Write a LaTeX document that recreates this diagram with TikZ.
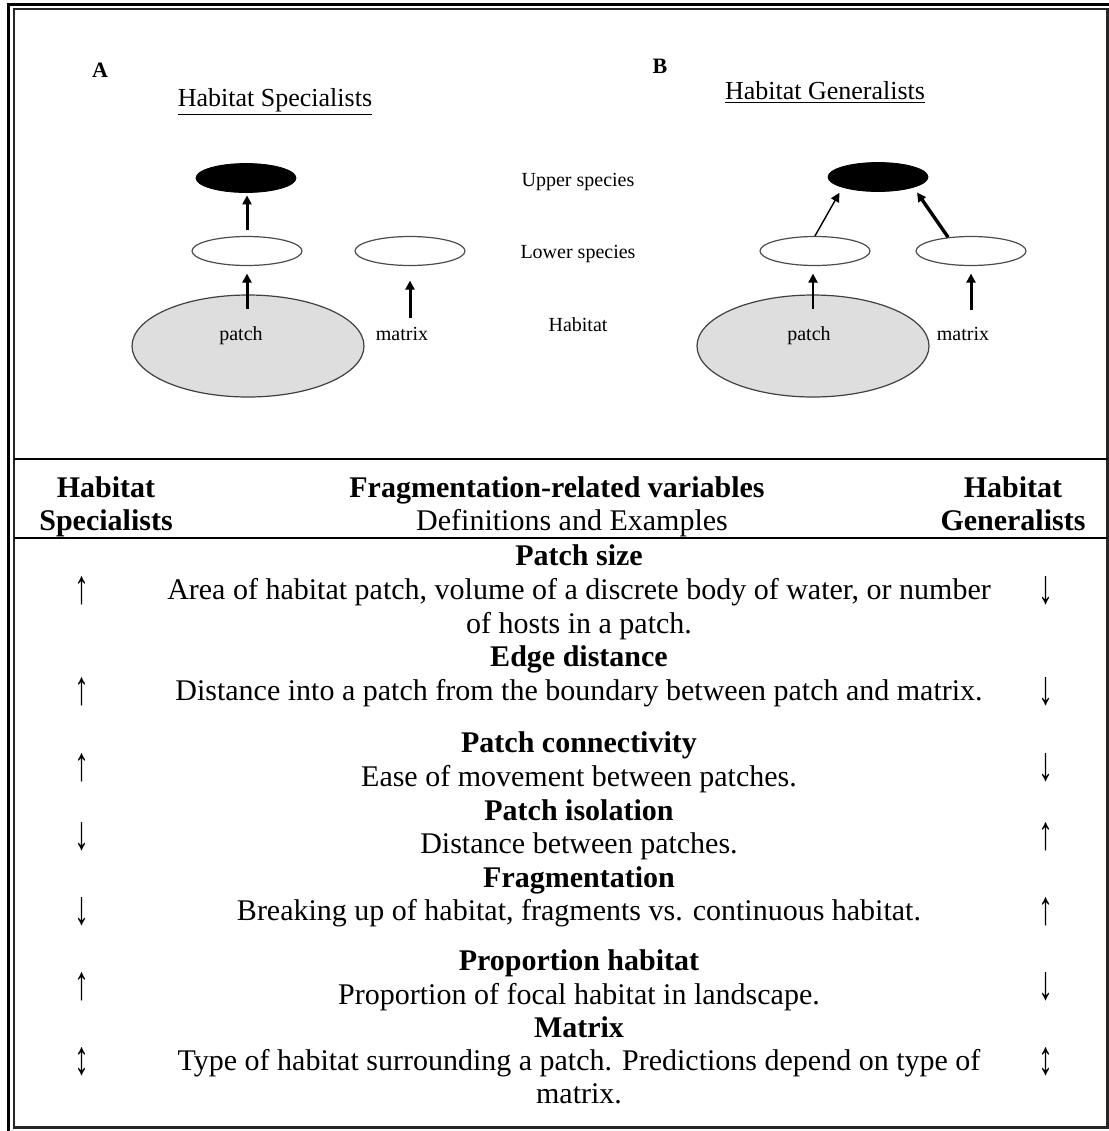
\documentclass[tikz,border=0pt]{standalone}
\usepackage{fontspec}
\setmainfont{Liberation Serif}
\usetikzlibrary{shapes.geometric,arrows.meta}

\tikzset{
	upper/.style={ellipse, draw=black, fill=black, minimum width=50pt, minimum height=14.5pt, inner sep=0pt},
	lower/.style={ellipse, draw=black!70, line width=0.6pt, fill=white, minimum width=55pt, minimum height=14.5pt, inner sep=0pt},
	patch/.style={ellipse, draw=black!75, line width=0.6pt, fill=black!13, minimum width=116pt, minimum height=51pt, inner sep=0pt},
	lbl/.style={anchor=base, inner sep=0pt, font=\fontsize{10}{12}\selectfont},
	ttl/.style={anchor=base, inner sep=0pt, font=\fontsize{13}{15}\selectfont},
	tag/.style={anchor=base, inner sep=0pt, font=\bfseries\fontsize{11}{13}\selectfont},
	hd/.style={anchor=base, inner sep=0pt, font=\bfseries\fontsize{15}{17}\selectfont},
	tx/.style={anchor=base, inner sep=0pt, font=\fontsize{15}{17}\selectfont},
	flow/.style={-{Triangle[length=4.5pt, width=4.5pt]}, line width=#1},
	flow/.default=1.5pt,
}
\newcommand{\trend}[1]{\raisebox{-2pt}{\scalebox{1}[1.6]{#1}}}

\begin{document}
\begin{tikzpicture}[x=0.5pt, y=-0.5pt]
	\path[use as bounding box] (0,0) rectangle (1109,1131);
	% frame and rules
	\draw[line width=1.5pt] (8.5,1131) -- (8.5,4.7) -- (1109,4.7);
	\draw[line width=1.25pt, black!85] (13.8,8.8) rectangle (1107.5,1127.5);
	\draw[line width=1pt] (13.8,459) -- (1107.5,459);
	\draw[line width=1pt] (13.8,537.7) -- (1107.5,537.7);

	% A: specialists
	\node[tag] (tagA) at (100,77) {A};
	\node[ttl] (titA) at (275,106) {\underline{Habitat Specialists}};
	\node[upper] (upA) at (246,178) {};
	\node[lower] (lowA) at (247,251) {};
	\node[lower] (matA) at (410,251) {};
	\node[patch] (patA) at (248,346) {};
	\node[lbl] (patA-l) at (241,340) {patch};
	\node[lbl] (matA-l) at (402,340) {matrix};
	\draw[flow, shorten <=2.75pt, shorten >=1.25pt] (lowA.north) -- (lowA.north |- upA.south);
	\draw[flow, shorten <=-7.5pt, shorten >=3.75pt] (patA.north -| lowA.south) -- (lowA.south);
	\draw[flow, shorten <=4pt, shorten >=7.25pt] (matA-l.north -| matA.south) -- (matA.south);

	% levels
	\node[lbl] (upper) at (578,186) {Upper species};
	\node[lbl] (lower) at (578,258) {Lower species};
	\node[lbl] (habitat) at (578,331) {Habitat};

	% B: generalists
	\node[tag] (tagB) at (660,73) {B};
	\node[ttl] (titB) at (825,99) {\underline{Habitat Generalists}};
	\node[upper] (upB) at (878,177) {};
	\node[lower] (lowB) at (815,251) {};
	\node[lower] (matB) at (971,251) {};
	\node[patch] (patB) at (813,346) {};
	\node[lbl] (patB-l) at (809,340) {patch};
	\node[lbl] (matB-l) at (963,340) {matrix};
	\draw[flow=0.7pt, shorten >=3pt] (lowB.north) -- (upB.south west);
	\draw[flow=1.7pt, shorten >=3pt] (matB.149) -- (upB.south east);
	\draw[flow=1pt, shorten <=-7.5pt, shorten >=3.75pt] (patB.north) -- (patB.north |- lowB.south);
	\draw[flow, shorten <=8pt, shorten >=3.75pt] (matB-l.north -| matB.south) -- (matB.south);

	% table head
	\node[hd] (hs1) at (106,497) {Habitat};
	\node[hd] (hs2) at (106,530) {Specialists};
	\node[hd] (fv) at (557,497) {Fragmentation-related variables};
	\node[tx] (de) at (572,530) {Definitions and Examples};
	\node[hd] (hg1) at (1013,497) {Habitat};
	\node[hd] (hg2) at (1013,530) {Generalists};

	% table rows
	\node[hd] (v1) at (579,565) {Patch size};
	\node[tx] (d1a) at (579,599) {Area of habitat patch, volume of a discrete body of water, or number};
	\node[tx] (d1b) at (579,633) {of hosts in a patch.};
	\node[hd] (v2) at (579,666) {Edge distance};
	\node[tx] (d2) at (579,700) {Distance into a patch from the boundary between patch and matrix.};
	\node[hd] (v3) at (579,752) {Patch connectivity};
	\node[tx] (d3) at (579,786) {Ease of movement between patches.};
	\node[hd] (v4) at (579,820) {Patch isolation};
	\node[tx] (d4) at (579,853) {Distance between patches.};
	\node[hd] (v5) at (579,887) {Fragmentation};
	\node[tx] (d5) at (579,920) {Breaking up of habitat, fragments vs. continuous habitat.};
	\node[hd] (v6) at (579,970) {Proportion habitat};
	\node[tx] (d6) at (579,1004) {Proportion of focal habitat in landscape.};
	\node[hd] (v7) at (579,1037) {Matrix};
	\node[tx] (d7a) at (579,1070) {Type of habitat surrounding a patch. Predictions depend on type of};
	\node[tx] (d7b) at (579,1103) {matrix.};

	\foreach \y/\l/\r [count=\i] in {599/↑/↓, 700/↑/↓, 776/↑/↓, 845/↓/↑, 920/↓/↑, 995/↑/↓, 1070/↕/↕} {
		\node[tx] (spec\i) at (82,\y) {\trend{\l}};
		\node[tx] (gen\i) at (1046,\y) {\trend{\r}};
	}
\end{tikzpicture}
\end{document}
